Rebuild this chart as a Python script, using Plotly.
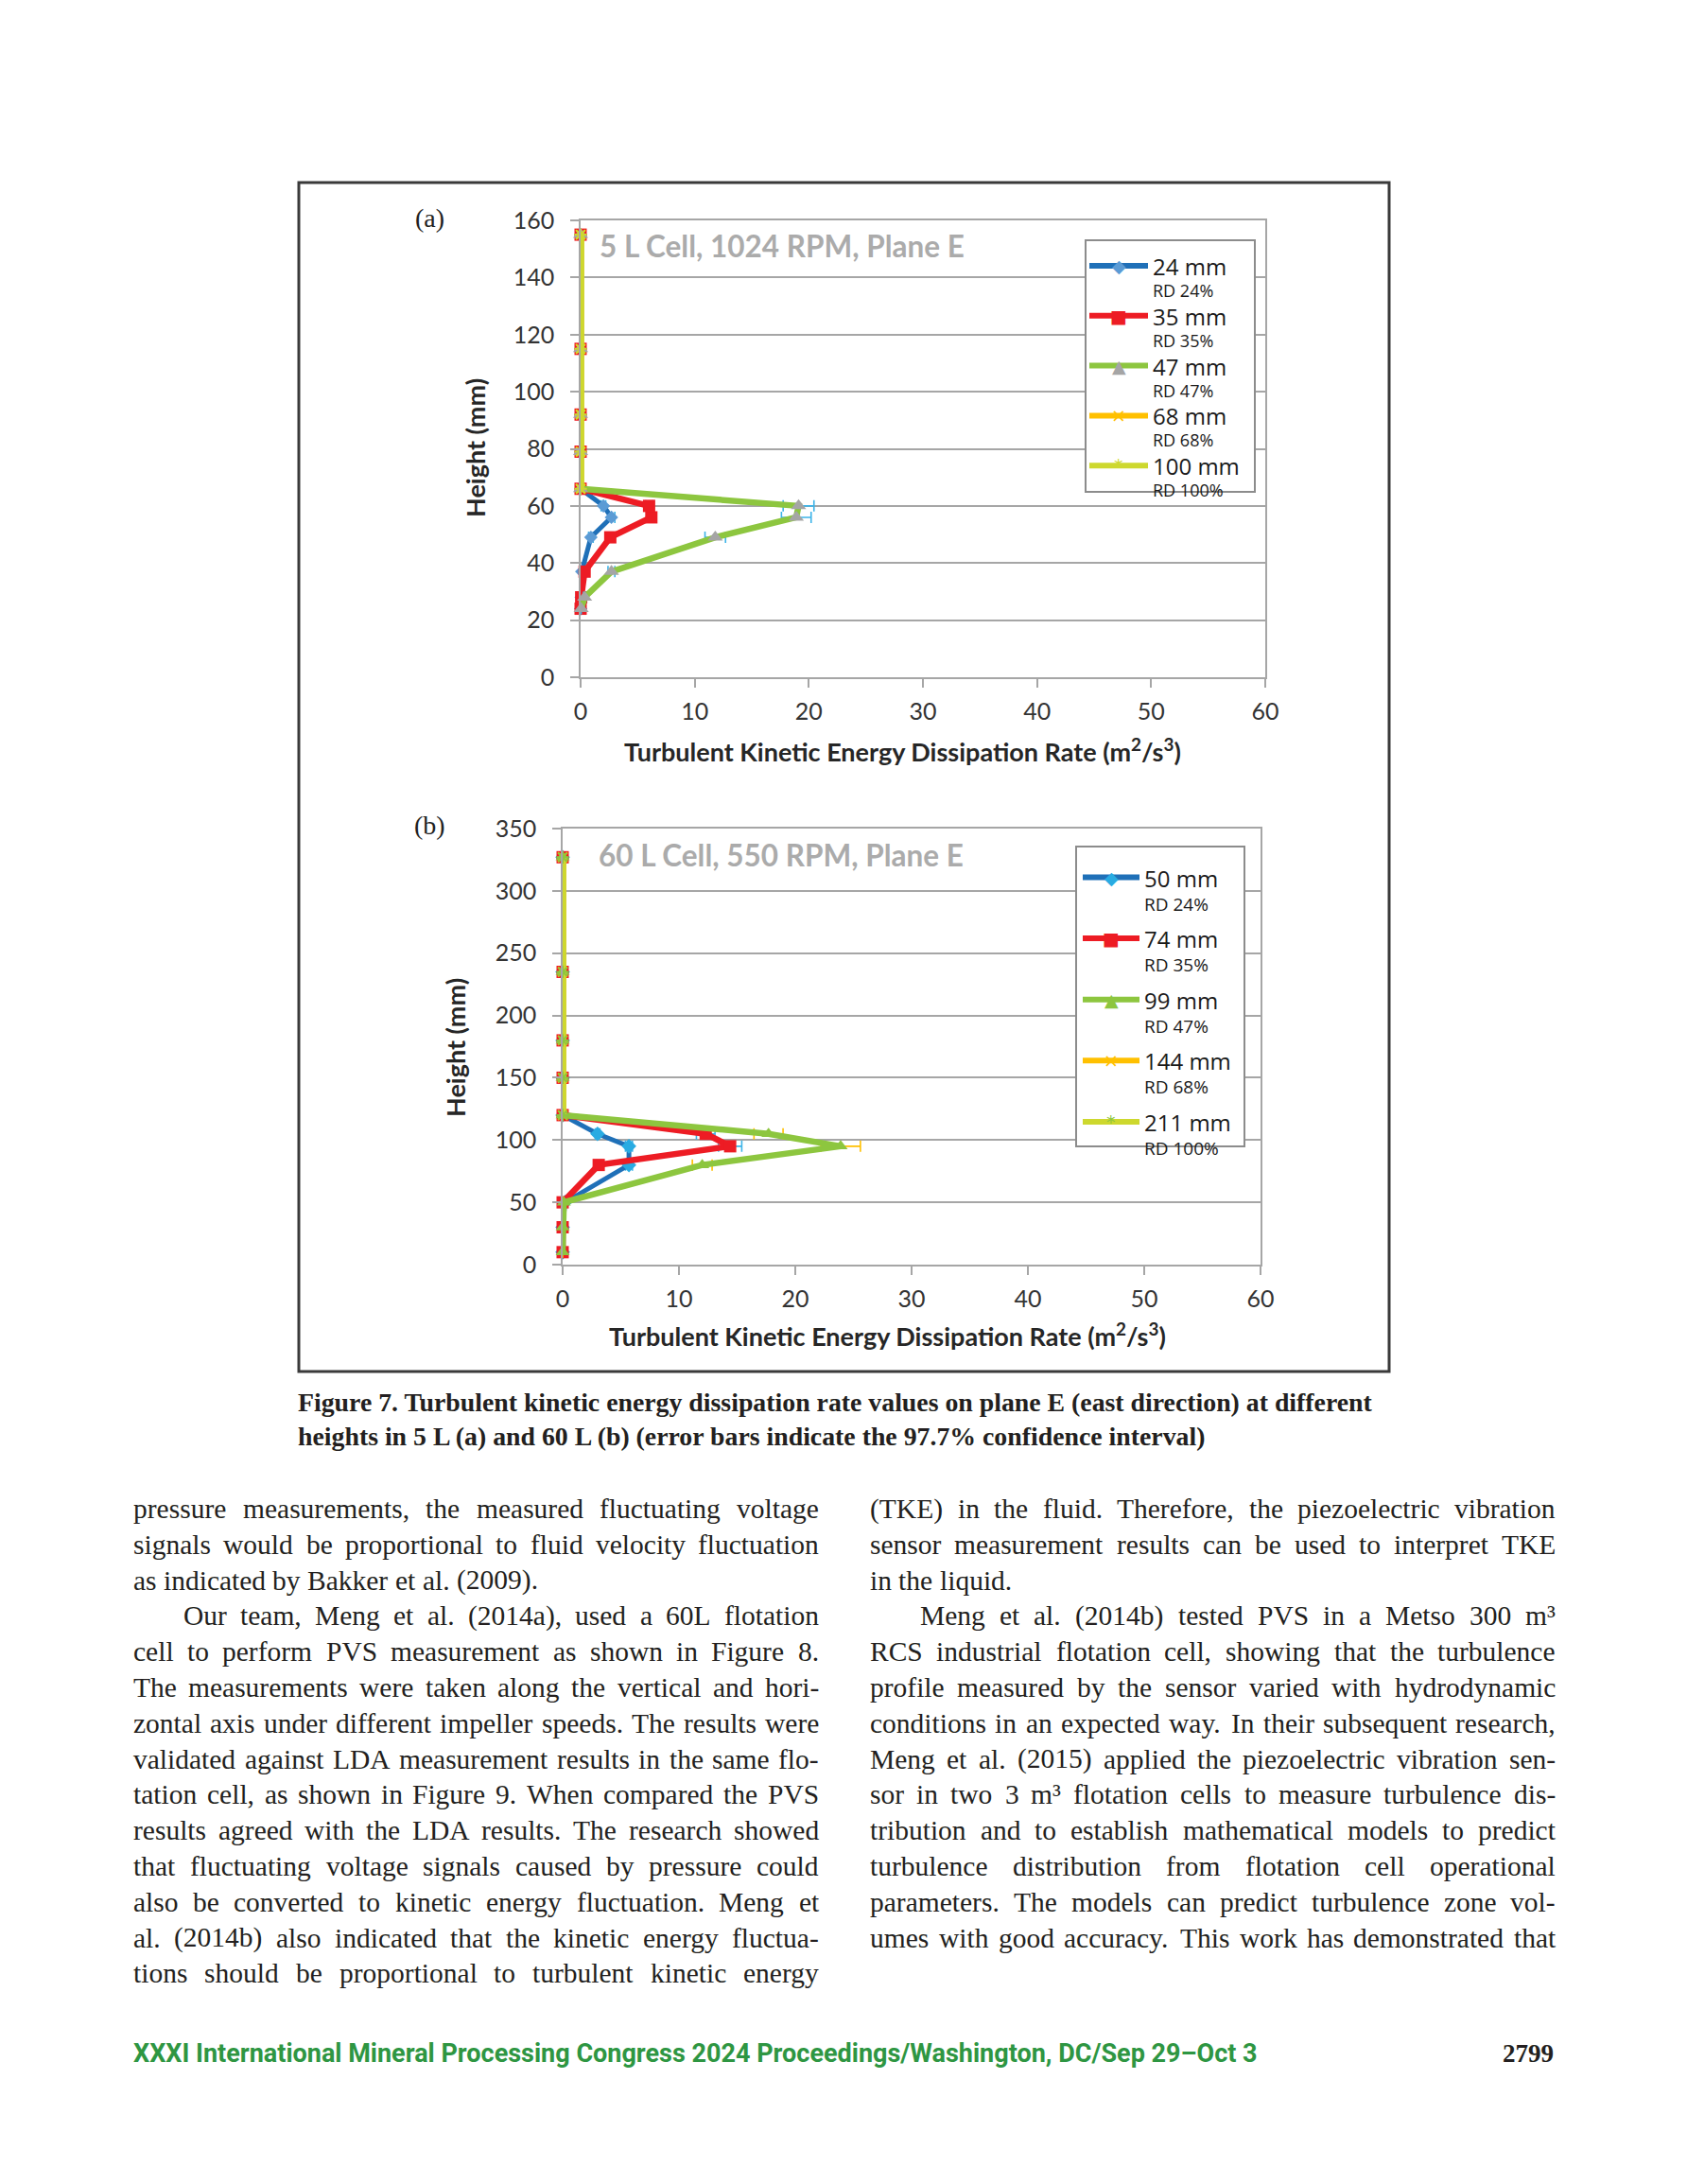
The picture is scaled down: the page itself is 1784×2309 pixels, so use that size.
import plotly.graph_objects as go

W, H = 1784, 2309

# ---------------- data: panel (a) 5 L cell ----------------
HEIGHT_A = [24, 28, 37, 49, 56, 60, 66, 79, 92, 115, 155]
HEIGHT_A_OUTER = [66, 79, 92, 115, 155]
TKE_A_24 = [0.0, 0.05, 0.1, 0.9, 2.7, 2.0, 0, 0, 0, 0, 0]
ERR_A_24 = [0, 0, 0, 0.2, 0.3, 0.2, 0, 0, 0, 0, 0]
TKE_A_35 = [0.0, 0.05, 0.35, 2.6, 6.2, 6.0, 0, 0, 0, 0, 0]
ERR_A_35 = [0, 0, 0, 0.2, 0.3, 0.3, 0, 0, 0, 0, 0]
TKE_A_47 = [0.05, 0.35, 2.7, 11.8, 18.9, 19.1, 0, 0, 0, 0, 0]
ERR_A_47 = [0, 0.1, 0.3, 0.9, 1.3, 1.35, 0, 0, 0, 0, 0]
TKE_A_68 = [0, 0, 0, 0, 0]
TKE_A_100 = [0, 0, 0, 0, 0]
NAMES_A = ["24 mm", "35 mm", "47 mm", "68 mm", "100 mm"]
RD_A = ["RD 24%", "RD 35%", "RD 47%", "RD 68%", "RD 100%"]
TITLE_A = "5 L Cell, 1024 RPM, Plane E"

# ---------------- data: panel (b) 60 L cell ----------------
HEIGHT_B = [10, 30, 50, 80, 95, 105, 120, 150, 180, 235, 327]
HEIGHT_B_OUTER = [120, 150, 180, 235, 327]
TKE_B_50 = [0, 0, 0.2, 5.7, 5.7, 3.0, 0, 0, 0, 0, 0]
ERR_B_50 = [0, 0, 0, 0.3, 0.3, 0.2, 0, 0, 0, 0, 0]
TKE_B_74 = [0, 0, 0, 3.1, 14.4, 12.3, 0, 0, 0, 0, 0]
ERR_B_74 = [0, 0, 0, 0.2, 1.0, 0.8, 0, 0, 0, 0, 0]
TKE_B_99 = [0, 0, 0.1, 12.0, 23.9, 17.7, 0, 0, 0, 0, 0]
ERR_B_99 = [0, 0, 0, 0.85, 1.7, 1.25, 0, 0, 0, 0, 0]
TKE_B_144 = [0, 0, 0, 0, 0]
TKE_B_211 = [0, 0, 0, 0, 0]
NAMES_B = ["50 mm", "74 mm", "99 mm", "144 mm", "211 mm"]
RD_B = ["RD 24%", "RD 35%", "RD 47%", "RD 68%", "RD 100%"]
TITLE_B = "60 L Cell, 550 RPM, Plane E"

X_TICKS = [0, 10, 20, 30, 40, 50, 60]
Y_TICKS_A = [0, 20, 40, 60, 80, 100, 120, 140, 160]
Y_TICKS_B = [0, 50, 100, 150, 200, 250, 300, 350]
X_TITLE = "Turbulent Kinetic Energy Dissipation Rate (m<sup>2</sup>/s<sup>3</sup>)"
Y_TITLE = "Height (mm)"

CAPTION = [
    "Figure 7. Turbulent kinetic energy dissipation rate values on plane E (east direction) at different",
    "heights in 5 L (a) and 60 L (b) (error bars indicate the 97.7% confidence interval)",
]

# (text, justified, indented)
LEFT_COL = [
    ("pressure measurements, the measured fluctuating voltage", True, False),
    ("signals would be proportional to fluid velocity fluctuation", True, False),
    ("as indicated by Bakker et al. (2009).", False, False),
    ("Our team, Meng et al. (2014a), used a 60L flotation", True, True),
    ("cell to perform PVS measurement as shown in Figure 8.", True, False),
    ("The measurements were taken along the vertical and hori-", True, False),
    ("zontal axis under different impeller speeds. The results were", True, False),
    ("validated against LDA measurement results in the same flo-", True, False),
    ("tation cell, as shown in Figure 9. When compared the PVS", True, False),
    ("results agreed with the LDA results. The research showed", True, False),
    ("that fluctuating voltage signals caused by pressure could", True, False),
    ("also be converted to kinetic energy fluctuation. Meng et", True, False),
    ("al. (2014b) also indicated that the kinetic energy fluctua-", True, False),
    ("tions should be proportional to turbulent kinetic energy", True, False),
]
RIGHT_COL = [
    ("(TKE) in the fluid. Therefore, the piezoelectric vibration", True, False),
    ("sensor measurement results can be used to interpret TKE", True, False),
    ("in the liquid.", False, False),
    ("Meng et al. (2014b) tested PVS in a Metso 300 m³", True, True),
    ("RCS industrial flotation cell, showing that the turbulence", True, False),
    ("profile measured by the sensor varied with hydrodynamic", True, False),
    ("conditions in an expected way. In their subsequent research,", True, False),
    ("Meng et al. (2015) applied the piezoelectric vibration sen-", True, False),
    ("sor in two 3 m³ flotation cells to measure turbulence dis-", True, False),
    ("tribution and to establish mathematical models to predict", True, False),
    ("turbulence distribution from flotation cell operational", True, False),
    ("parameters. The models can predict turbulence zone vol-", True, False),
    ("umes with good accuracy. This work has demonstrated that", True, False),
]
FOOTER = "XXXI International Mineral Processing Congress 2024 Proceedings/Washington, DC/Sep 29–Oct 3"
PAGE_NO = "2799"

# ---------------- styles ----------------
GRID = "#A6A6A6"
TXT = "#262626"
CHART_FONT = "Lato"
SERIF = "Liberation Serif"

STYLE_A = [
    dict(color="#1F70B8", width=5, symbol="diamond", msize=11, mcolor="#5B9BD5", ecolor="#3DB4E8"),
    dict(color="#ED1C24", width=6.5, symbol="square", msize=13, mcolor="#ED1C24", ecolor="#3DB4E8"),
    dict(color="#8DC63F", width=6.5, symbol="triangle-up", msize=14, mcolor="#A5A5A5", ecolor="#3DB4E8"),
    dict(color="#FFC000", width=7, symbol="x-thin", msize=10, mcolor="#FFC000", ecolor="#FFC000"),
    dict(color="#CDD82E", width=7.5, symbol="asterisk", msize=11, mcolor="#CDD82E", ecolor="#CDD82E"),
]
STYLE_B = [
    dict(color="#1F70B8", width=5, symbol="diamond", msize=12, mcolor="#29ABE2", ecolor="#3DB4E8"),
    dict(color="#ED1C24", width=6.5, symbol="square", msize=13, mcolor="#ED1C24", ecolor="#3DB4E8"),
    dict(color="#8DC63F", width=6.5, symbol="triangle-up", msize=13, mcolor="#8DC63F", ecolor="#FFC000"),
    dict(color="#FFC000", width=7, symbol="x-thin", msize=10, mcolor="#FFC000", ecolor="#FFC000"),
    dict(color="#CDD82E", width=7.5, symbol="asterisk", msize=11, mcolor="#8DC63F", ecolor="#8DC63F"),
]
LEGEND_GLYPH = {"diamond": "◆", "square": "■", "triangle-up": "▲", "x-thin": "×", "asterisk": "*"}


def fx(px):
    return px / W


def fy(py):
    return 1 - py / H


fig = go.Figure()


def add_series(xa, ya, heights, values, errors, st):
    open_sym = st["symbol"] in ("x-thin", "asterisk")
    marker = dict(symbol=st["symbol"], size=st["msize"], color=st["mcolor"],
                  line=dict(width=2 if open_sym else 0, color=st["mcolor"]))
    kw = {}
    if errors is not None:
        kw["error_x"] = dict(type="data", array=errors, visible=True, color=st["ecolor"],
                             thickness=1.6, width=6)
    fig.add_trace(go.Scatter(x=values, y=heights, xaxis=xa, yaxis=ya, mode="lines+markers",
                             line=dict(color=st["color"], width=st["width"]),
                             marker=marker, cliponaxis=False, showlegend=False,
                             hoverinfo="skip", **kw))


panel_a = [(HEIGHT_A, TKE_A_24, ERR_A_24), (HEIGHT_A, TKE_A_35, ERR_A_35),
           (HEIGHT_A, TKE_A_47, ERR_A_47), (HEIGHT_A_OUTER, TKE_A_68, None),
           (HEIGHT_A_OUTER, TKE_A_100, None)]
for (h, v, e), st in zip(panel_a, STYLE_A):
    add_series("x", "y", h, v, e, st)

panel_b = [(HEIGHT_B, TKE_B_50, ERR_B_50), (HEIGHT_B, TKE_B_74, ERR_B_74),
           (HEIGHT_B, TKE_B_99, ERR_B_99), (HEIGHT_B_OUTER, TKE_B_144, None),
           (HEIGHT_B_OUTER, TKE_B_211, None)]
for (h, v, e), st in zip(panel_b, STYLE_B):
    add_series("x2", "y2", h, v, e, st)

axis_common = dict(showline=True, linecolor=GRID, linewidth=1.5, mirror=True,
                   ticks="outside", ticklen=9, tickwidth=1.5, tickcolor=GRID,
                   zeroline=False, fixedrange=True, automargin=False,
                   tickfont=dict(family=CHART_FONT, size=25, color="#333333"))
xcommon = dict(showgrid=False, ticklabelstandoff=4, **axis_common)
ycommon = dict(showgrid=True, gridcolor=GRID, gridwidth=1.5, ticklabelstandoff=12, **axis_common)

fig.update_layout(
    width=W, height=H, autosize=False,
    margin=dict(l=0, r=0, t=0, b=0, pad=0, autoexpand=False),
    paper_bgcolor="white", plot_bgcolor="white", showlegend=False,
    xaxis=dict(domain=[fx(614), fx(1338)], range=[0, 60], tickvals=X_TICKS, anchor="y", **xcommon),
    yaxis=dict(domain=[fy(716), fy(233)], range=[0, 160], tickvals=Y_TICKS_A, anchor="x", **ycommon),
    xaxis2=dict(domain=[fx(595), fx(1333)], range=[0, 60], tickvals=X_TICKS, anchor="y2", **xcommon),
    yaxis2=dict(domain=[fy(1337), fy(876)], range=[0, 350], tickvals=Y_TICKS_B, anchor="x2", **ycommon),
)

ann = []
shapes = []


def text(x, y, s, size, family, color=TXT, xanchor="left", yanchor="middle", angle=0, bold=False):
    ann.append(dict(x=fx(x), y=fy(y), xref="paper", yref="paper", text=s, showarrow=False,
                    xanchor=xanchor, yanchor=yanchor, textangle=angle, borderpad=0,
                    align="left",
                    font=dict(family=family, size=size, color=color,
                              weight="bold" if bold else "normal")))


# outer figure frame
shapes.append(dict(type="rect", xref="paper", yref="paper", x0=fx(316), y0=fy(193), x1=fx(1469),
                   y1=fy(1450), line=dict(color="#3A3A3A", width=3), layer="above"))

# panel labels, titles, axis titles
text(454, 230, "(a)", 28, SERIF, color="#222222", xanchor="center")
text(454, 872, "(b)", 28, SERIF, color="#222222", xanchor="center")
text(633, 260, TITLE_A, 31.5, CHART_FONT, color="#ABABAB", bold=True)
text(632, 904, TITLE_B, 31.5, CHART_FONT, color="#ABABAB", bold=True)
text(955, 793, X_TITLE, 27, CHART_FONT, xanchor="center", bold=True)
text(938, 1411, X_TITLE, 27, CHART_FONT, xanchor="center", bold=True)
text(502, 473, Y_TITLE, 27, CHART_FONT, xanchor="center", angle=-90, bold=True)
text(481, 1107, Y_TITLE, 27, CHART_FONT, xanchor="center", angle=-90, bold=True)


# manual legends
def legend(box, names, subs, styles):
    x0, y0, x1, y1 = box["box"]
    shapes.append(dict(type="rect", xref="paper", yref="paper", x0=fx(x0), y0=fy(y0),
                       x1=fx(x1), y1=fy(y1), fillcolor="white",
                       line=dict(color="#8C8C8C", width=2), layer="above"))
    for i, (nm, sb, st) in enumerate(zip(names, subs, styles)):
        yy = box["row0"] + i * box["dy"]
        shapes.append(dict(type="line", xref="paper", yref="paper", x0=fx(box["lx0"]), x1=fx(box["lx1"]),
                           y0=fy(yy), y1=fy(yy), line=dict(color=st["color"], width=6), layer="above"))
        gx = (box["lx0"] + box["lx1"]) / 2
        text(gx, yy, LEGEND_GLYPH[st["symbol"]], 19, "DejaVu Sans", color=st["mcolor"], xanchor="center")
        label = "<span style='font-size:24px'>%s</span><br>%s" % (nm, sb)
        text(box["tx"], yy - 17, label, box["sub"], "Open Sans", color="#1A1A1A", yanchor="top")


legend(dict(box=(1148, 254, 1327, 520), row0=281, dy=52.8, lx0=1152, lx1=1214, tx=1218, sub=18),
       NAMES_A, RD_A, STYLE_A)
legend(dict(box=(1138, 895, 1316, 1212), row0=927.5, dy=64.6, lx0=1145, lx1=1205, tx=1209, sub=19),
       NAMES_B, RD_B, STYLE_B)

# caption
CAP_SIZE = 27.8
text(314, 1483, "<b>%s</b>" % CAPTION[0], CAP_SIZE, SERIF, color="#231F20")
text(314, 1518, "<b>%s</b>" % CAPTION[1], CAP_SIZE, SERIF, color="#231F20")

# body text, justified with Times metrics (Liberation Serif is metric compatible)
TIMES = dict(zip("abcdefghijklmnopqrstuvwxyz",
                 [444, 500, 444, 500, 444, 333, 500, 500, 278, 278, 500, 278, 778, 500, 500, 500, 500,
                  333, 389, 278, 500, 500, 722, 500, 500, 444]))
TIMES.update(dict(zip("ABCDEFGHIJKLMNOPQRSTUVWXYZ",
                      [722, 667, 667, 722, 611, 556, 722, 722, 333, 389, 722, 611, 889, 722, 722, 556,
                       722, 667, 556, 611, 722, 722, 944, 722, 722, 611])))
TIMES.update({c: 500 for c in "0123456789"})
TIMES.update({" ": 250, ".": 250, ",": 250, "(": 333, ")": 333, "-": 333, "³": 300, "%": 833})

BODY_SIZE = 29.5
LINE0 = 1595
LINE_DY = 37.8
INDENT = 53


def width_px(s):
    return sum(TIMES.get(c, 500) for c in s) / 1000.0 * BODY_SIZE


def column(lines, left, right):
    for i, (ln, just, ind) in enumerate(lines):
        yy = LINE0 + i * LINE_DY
        words = ln.split(" ")
        xs = left + (INDENT if ind else 0)
        natural = sum(width_px(w) for w in words)
        if just and len(words) > 1:
            gap = (right - xs - natural) / (len(words) - 1)
        else:
            gap = width_px(" ")
        x = xs
        for w in words:
            text(x, yy, w, BODY_SIZE, SERIF, color="#231F20")
            x += width_px(w) + gap


column(LEFT_COL, 140, 865)
column(RIGHT_COL, 919, 1644)

# footer
text(140, 2171, FOOTER, 27, "Roboto", color="#2E9642", bold=True)
text(1644, 2171, PAGE_NO, 27, SERIF, color="#231F20", xanchor="right", bold=True)

fig.update_layout(annotations=ann, shapes=shapes)
fig.write_html("out.html", config={"displayModeBar": False},
               post_script="document.body.style.margin='0';document.body.style.overflow='hidden';")
